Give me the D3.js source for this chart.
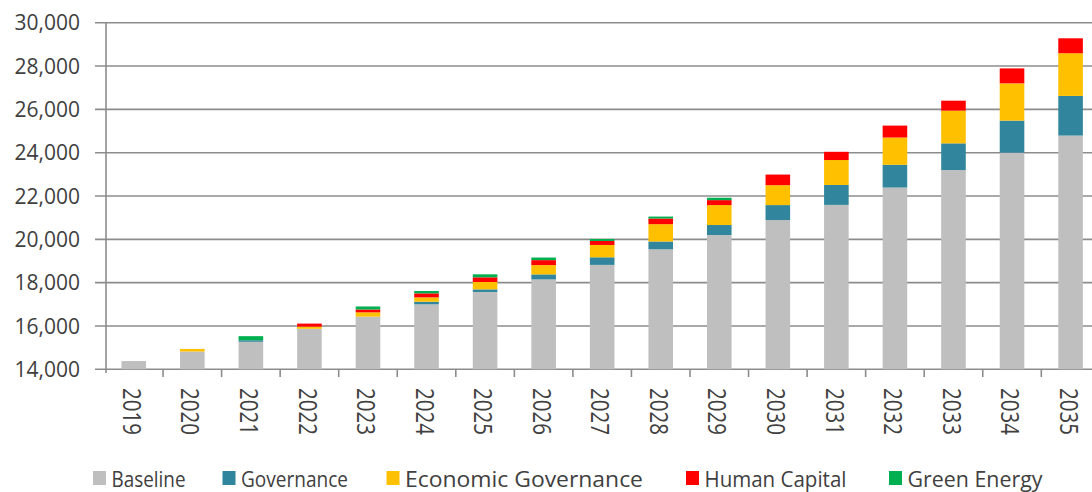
<!DOCTYPE html>
<html>
<head>
<meta charset="utf-8">
<script src="https://cdn.jsdelivr.net/npm/d3@7"></script>
<style>
  html, body { margin: 0; padding: 0; background: #fff; }
  svg { display: block; }
  text { font-family: "Open Sans", "Noto Sans", sans-serif; fill: #404040; }
</style>
</head>
<body>
<svg id="chart" width="1092" height="492"></svg>
<script>
// Years on the category axis
const years = ["2019","2020","2021","2022","2023","2024","2025","2026","2027","2028","2029","2030","2031","2032","2033","2034","2035"];

// Stacked series values
const baseline           = [14380,14820,15270,15870,16430,17000,17570,18150,18820,19540,20200,20890,21590,22390,23200,24000,24790];
const governance         = [    0,    0,   70,    0,    0,  120,  120,  230,  350,  360,  460,  690,  920, 1050, 1230, 1480, 1830];
const economicGovernance = [    0,  120,    0,  100,  200,  200,  340,  430,  570,  800,  920,  920, 1150, 1260, 1510, 1720, 1970];
const humanCapital       = [    0,    0,    0,  140,  130,  185,  215,  230,  185,  260,  230,  490,  380,  550,  460,  690,  690];
const greenEnergy        = [    0,    0,  190,    0,  140,  110,  140,  120,   90,   90,  110,    0,    0,    0,    0,    0,    0];

// Series names and value-axis ticks
const seriesNames = ["Baseline", "Governance", "Economic Governance", "Human Capital", "Green Energy"];
const yTicks = [14000, 16000, 18000, 20000, 22000, 24000, 26000, 28000, 30000];

const seriesColors = ["#bfbfbf", "#31859c", "#ffc000", "#ff0000", "#00b050"];
const seriesValues = [baseline, governance, economicGovernance, humanCapital, greenEnergy];

const rows = years.map((y, i) => {
  const r = { year: y };
  seriesNames.forEach((n, k) => { r[n] = seriesValues[k][i]; });
  return r;
});

const svg = d3.select("#chart");

const x0 = 104.5, step = 58.55;
const x = d3.scaleBand()
  .domain(years)
  .range([x0, x0 + step * years.length])
  .paddingInner(0.58)
  .paddingOuter(0.29);

// The value axis starts at 14,000, so stacks are clamped at the axis floor
const y = d3.scaleLinear().domain([14000, 30000]).range([369.3, 22.7]).clamp(true);

const axisColor = "#8c8c8c";

// Horizontal gridlines, with short tick stubs left of the axis
svg.append("g")
  .selectAll("line")
  .data(yTicks)
  .join("line")
  .attr("x1", 95)
  .attr("x2", 1092)
  .attr("y1", d => y(d))
  .attr("y2", d => y(d))
  .attr("stroke", axisColor)
  .attr("stroke-width", 1.6);

// Value-axis labels
svg.append("g")
  .selectAll("text")
  .data(yTicks)
  .join("text")
  .attr("x", 80)
  .attr("y", d => y(d))
  .attr("dy", "0.36em")
  .attr("text-anchor", "end")
  .attr("font-size", 21)
  .text(d => d3.format(",")(d));

// Stacked bars
const stack = d3.stack().keys(seriesNames);
const layers = stack(rows);

svg.append("g")
  .selectAll("g")
  .data(layers)
  .join("g")
  .attr("fill", (d, i) => seriesColors[i])
  .selectAll("rect")
  .data(d => d)
  .join("rect")
  .attr("x", d => x(d.data.year))
  .attr("width", x.bandwidth())
  .attr("y", d => y(d[1]))
  .attr("height", d => Math.max(0, y(d[0]) - y(d[1])));

// Vertical value axis line
svg.append("line")
  .attr("x1", 106).attr("x2", 106)
  .attr("y1", y(30000)).attr("y2", 373)
  .attr("stroke", axisColor)
  .attr("stroke-width", 1.6);

// Category axis ticks between bands
const boundaries = d3.range(years.length + 1).map(i => x0 + step * i);
svg.append("g")
  .selectAll("line")
  .data(boundaries.slice(1))
  .join("line")
  .attr("x1", d => d).attr("x2", d => d)
  .attr("y1", y(14000)).attr("y2", 377)
  .attr("stroke", axisColor)
  .attr("stroke-width", 1.6);

// Rotated year labels reading downward
svg.append("g")
  .selectAll("text")
  .data(years)
  .join("text")
  .attr("transform", d => `translate(${x(d) + x.bandwidth() / 2 - 2},388) rotate(90) scale(1,1.2)`)
  .attr("dy", "0.36em")
  .attr("text-anchor", "start")
  .attr("font-size", 20.5)
  .text(d => d);

// Legend
const legendX = [93, 222.5, 386.5, 686, 889];
const legendW = [74, 107, 238, 142, 135];
const legend = svg.append("g")
  .selectAll("g")
  .data(seriesNames)
  .join("g")
  .attr("transform", (d, i) => `translate(${legendX[i]},0)`);

legend.append("rect")
  .attr("x", 0).attr("y", 471)
  .attr("width", 13).attr("height", 14)
  .attr("fill", (d, i) => seriesColors[i]);

legend.append("text")
  .attr("x", 18.5)
  .attr("y", 486.5)
  .attr("font-size", 21)
  .attr("textLength", (d, i) => legendW[i])
  .attr("lengthAdjust", "spacingAndGlyphs")
  .text(d => d);
</script>
</body>
</html>
